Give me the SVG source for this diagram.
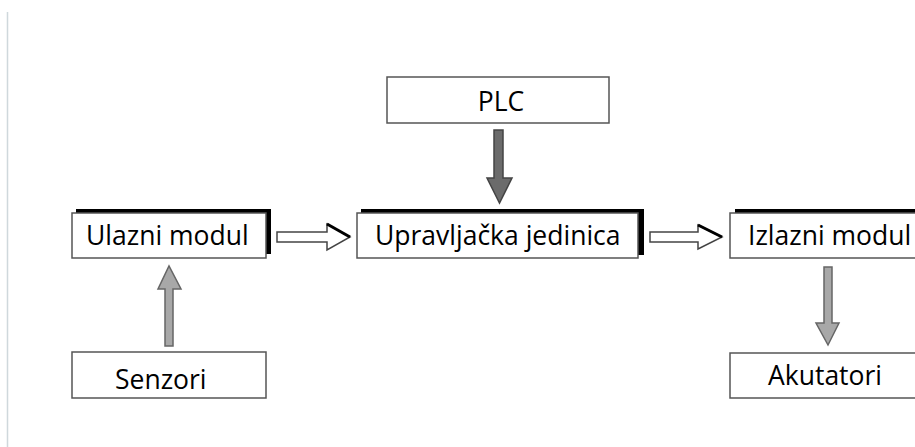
<svg xmlns="http://www.w3.org/2000/svg" width="915" height="447" viewBox="0 0 915 447">
<defs>
<style>
.box{fill:#fff;stroke:#555;stroke-width:1.5}
.shadow{fill:#000}
.lbl{font-family:"Open Sans","Noto Sans","DejaVu Sans",sans-serif;font-size:26.5px;fill:#000}
.hollow{fill:#fff;stroke:#444;stroke-width:1.5;stroke-linejoin:miter}
.edge{stroke:#000;stroke-width:3;fill:none}
.dark{fill:#6b6b6b;stroke:#444;stroke-width:1.5}
.light{fill:#a8a8a8;stroke:#666;stroke-width:1.5}
</style>
</defs>
<rect x="0" y="0" width="915" height="447" fill="#fff"/>
<line x1="7.5" y1="12" x2="7.5" y2="447" stroke="#cfd8dc" stroke-width="1.5"/>
<g id="connectors">
<polygon class="hollow" points="277,232 327,232 327,224 350,237 327,250 327,242 277,242"/>
<line class="edge" x1="327" y1="224" x2="350" y2="237"/>
<polygon class="hollow" points="650,232 698,232 698,225 722,237 698,249 698,242 650,242"/>
<line class="edge" x1="698" y1="225" x2="722" y2="237"/>
<polygon class="dark" points="494,130 503,130 503,178 512,178 499.5,203 487,178 494,178"/>
<polygon class="light" points="165,346 173,346 173,289 181,289 169,266 158,289 165,289"/>
<polygon class="light" points="824,267 832,267 832,323 839,323 828,345 816,323 824,323"/>
</g>
<g id="plc">
<rect class="box" x="387" y="77" width="222" height="46"/>
<text class="lbl" x="501" y="111" text-anchor="middle">PLC</text>
</g>
<g id="ulazni">
<rect class="shadow" x="76" y="209" width="195" height="45"/>
<rect class="box" x="72" y="213" width="194" height="45"/>
<text class="lbl" x="86" y="245">Ulazni modul</text>
</g>
<g id="upravljacka">
<rect class="shadow" x="361" y="209" width="283" height="46"/>
<rect class="box" x="357" y="213" width="281" height="45"/>
<text class="lbl" x="375" y="245">Upravljačka jedinica</text>
</g>
<g id="izlazni">
<rect class="shadow" x="735" y="209" width="200" height="45"/>
<rect class="box" x="730" y="213" width="200" height="45"/>
<text class="lbl" x="748" y="245">Izlazni modul</text>
</g>
<g id="senzori">
<rect class="box" x="72" y="352" width="194" height="46"/>
<text class="lbl" x="115" y="389">Senzori</text>
</g>
<g id="akutatori">
<rect class="box" x="730" y="353" width="200" height="45"/>
<text class="lbl" x="768" y="385">Akutatori</text>
</g>
</svg>
